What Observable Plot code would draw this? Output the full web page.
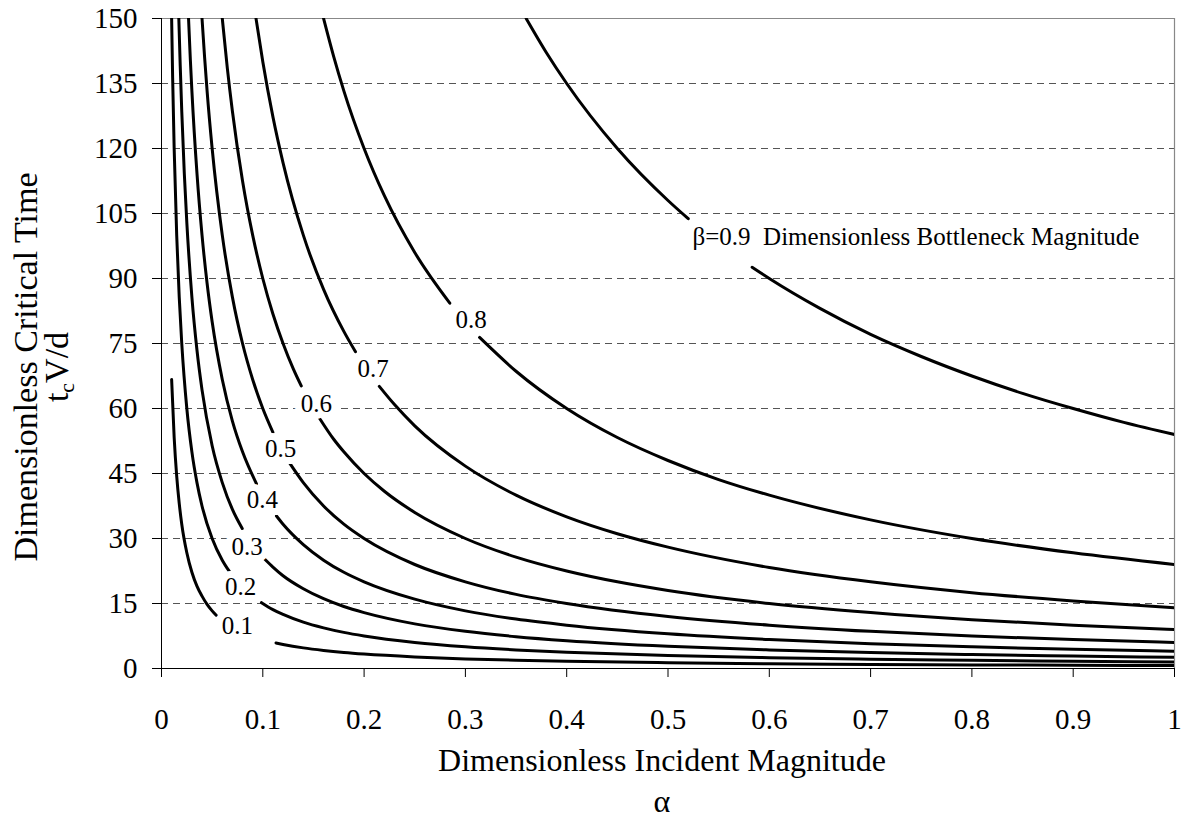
<!DOCTYPE html>
<html>
<head>
<meta charset="utf-8">
<script src="https://cdn.jsdelivr.net/npm/d3@7"></script>
<script src="https://cdn.jsdelivr.net/npm/@observablehq/plot@0.6"></script>
<style>
  html, body { margin: 0; padding: 0; background: #fff; overflow: hidden; }
  #chart { width: 1185px; height: 819px; }
</style>
</head>
<body>
<div id="chart"></div>
<script>
// ---- Data (null = gap where a label sits) ----
const betas = ["0.1", "0.2", "0.3", "0.4", "0.5", "0.6", "0.7", "0.8", "0.9"];

const alpha01 = [0.01,0.0125,0.015,0.0175,0.02,0.025,0.03,0.035,0.04,0.045,0.05,0.054,0.08,0.113,0.12,0.14,0.16,0.18,0.2,0.25,0.3,0.35,0.4,0.5,0.6,0.7,0.8,0.9,1];
const time01  = [66.7,53.3,44.4,38.1,33.3,26.7,22.2,19.0,16.7,14.8,13.3,12.3,null,5.9,5.56,4.76,4.17,3.70,3.33,2.67,2.22,1.90,1.67,1.33,1.11,0.95,0.83,0.74,0.67];

const alpha02 = [0.01,0.011,0.0125,0.015,0.0175,0.02,0.025,0.03,0.035,0.04,0.05,0.06,0.067,0.08,0.0987,0.11,0.12,0.14,0.16,0.18,0.2,0.25,0.3,0.35,0.4,0.5,0.6,0.7,0.8,0.9,1];
const time02  = [150,136.4,120,100,85.7,75,60,50,42.9,37.5,30,25,22.4,null,15.2,13.6,12.5,10.7,9.38,8.33,7.5,6,5,4.29,3.75,3,2.5,2.14,1.88,1.67,1.5];

const alpha03 = [0.0171,0.0185,0.02,0.0225,0.025,0.03,0.035,0.04,0.05,0.06,0.07,0.0797,0.09,0.102,0.11,0.12,0.14,0.16,0.18,0.2,0.25,0.3,0.35,0.4,0.5,0.6,0.7,0.8,0.9,1];
const time03  = [150,139,128.6,114.3,102.9,85.7,73.5,64.3,51.4,42.9,36.7,32.3,null,25.2,23.4,21.4,18.4,16.1,14.3,12.9,10.3,8.57,7.35,6.43,5.14,4.29,3.67,3.21,2.86,2.57];

const alpha04 = [0.0267,0.0285,0.03,0.035,0.04,0.045,0.05,0.06,0.07,0.08,0.0938,0.1,0.1135,0.12,0.14,0.16,0.18,0.2,0.25,0.3,0.35,0.4,0.5,0.6,0.7,0.8,0.9,1];
const time04  = [150,140.4,133.3,114.3,100,88.9,80,66.7,57.1,50,42.6,null,35.2,33.3,28.6,25,22.2,20,16,13.3,11.4,10,8,6.67,5.71,5,4.44,4];

const alpha05 = [0.04,0.0425,0.045,0.05,0.06,0.07,0.08,0.09,0.1,0.11,0.118,0.1257,0.14,0.16,0.18,0.2,0.25,0.3,0.35,0.4,0.5,0.6,0.7,0.8,0.9,1];
const time05  = [150,141.2,133.3,120,100,85.7,75,66.7,60,54.5,null,47.7,42.9,37.5,33.3,30,24,20,17.1,15,12,10,8.57,7.5,6.67,6];

const alpha06 = [0.06,0.065,0.07,0.08,0.09,0.1,0.11,0.12,0.13,0.138,0.147,0.1553,0.17,0.18,0.2,0.22,0.25,0.3,0.35,0.4,0.45,0.5,0.6,0.7,0.8,0.9,1];
const time06  = [150,138.5,128.6,112.5,100,90,81.8,75,69.2,65.2,null,58.0,52.9,50,45,40.9,36,30,25.7,22.5,20,18,15,12.9,11.25,10,9];

const alpha07 = [0.0933,0.1,0.11,0.12,0.14,0.16,0.18,0.1915,0.2,0.215,0.23,0.25,0.3,0.35,0.4,0.45,0.5,0.6,0.7,0.8,0.9,1];
const time07  = [150,140,127.3,116.7,100,87.5,77.8,73.1,null,65.1,60.9,56,46.7,40,35,31.1,28,23.3,20,17.5,15.6,14];

const alpha08 = [0.16,0.17,0.18,0.2,0.22,0.25,0.2846,0.3,0.314,0.35,0.4,0.45,0.5,0.55,0.6,0.7,0.8,0.9,1];
const time08  = [150,141.2,133.3,120,109.1,96,84.3,null,76.4,68.6,60,53.3,48,43.6,40,34.3,30,26.7,24];

const alpha09 = [0.36,0.38,0.4,0.45,0.5,0.52,0.55,0.583,0.6,0.65,0.7,0.75,0.8,0.85,0.9,0.95,1];
const time09  = [150,142.1,135,120,108,103.8,null,92.6,90,83.1,77.1,72,67.5,63.5,60,56.8,54];

// Curve labels (annotation anchors in data units)
const labelText  = ["0.1", "0.2", "0.3", "0.4", "0.5", "0.6", "0.7", "0.8"];
const labelAlpha = [0.075, 0.078, 0.0846, 0.0997, 0.1175, 0.153, 0.209, 0.3057];
const labelTime  = [9.8, 18.8, 28.0, 38.8, 50.6, 61.0, 69.1, 80.5];
const betaLabel = "β=0.9\u00a0\u00a0Dimensionless Bottleneck Magnitude";
const betaLabelAlpha = 0.5242;
const betaLabelTime = 99.5;

const xTicks = [0, 0.1, 0.2, 0.3, 0.4, 0.5, 0.6, 0.7, 0.8, 0.9, 1];
const yTicks = [0, 15, 30, 45, 60, 75, 90, 105, 120, 135, 150];
const gridLines = [15, 30, 45, 60, 75, 90, 105, 120, 135];

// ---- Build table ----
const alphas = [alpha01, alpha02, alpha03, alpha04, alpha05, alpha06, alpha07, alpha08, alpha09];
const times  = [time01, time02, time03, time04, time05, time06, time07, time08, time09];
const rows = [];
betas.forEach((b, i) => {
  alphas[i].forEach((a, j) => rows.push({beta: b, alpha: a, t: times[i][j]}));
});
const labels = labelText.map((s, i) => ({text: s, alpha: labelAlpha[i], t: labelTime[i]}));

const FONT = "Liberation Serif, Times New Roman, serif";

const chart = Plot.plot({
  width: 1185,
  height: 819,
  marginLeft: 161,
  marginRight: 11,
  marginTop: 18,
  marginBottom: 151,
  style: {fontFamily: FONT, fontSize: "29px", background: "#fff", color: "#000"},
  x: {domain: [0, 1]},
  y: {domain: [0, 150]},
  marks: [
    Plot.ruleY(gridLines, {stroke: "#555", strokeWidth: 1, strokeDasharray: "7,5"}),
    Plot.ruleY([150], {stroke: "#888", strokeWidth: 1.2}),
    Plot.ruleX([1], {stroke: "#888", strokeWidth: 1.2}),
    Plot.line(rows, {x: "alpha", y: "t", z: "beta", stroke: "#000", strokeWidth: 3, curve: "monotone-x", clip: true}),
    Plot.ruleX([0], {stroke: "#000", strokeWidth: 1}),
    Plot.ruleY([0], {stroke: "#000", strokeWidth: 1}),
    Plot.axisX({ticks: xTicks, tickSize: 9, tickPadding: 31, tickFormat: d => String(d), label: null, fontSize: 29}),
    Plot.axisY({ticks: yTicks, tickSize: 9, tickPadding: 15, tickFormat: d => String(d), label: null, fontSize: 29}),
    Plot.text(labels, {x: "alpha", y: "t", text: "text", fontSize: 25, fill: "#000", stroke: "#fff", strokeWidth: 14, lineAnchor: "middle"}),
    Plot.text([betaLabel], {x: () => betaLabelAlpha, y: () => betaLabelTime, text: d => d, fontSize: 25, textAnchor: "start", fill: "#000", stroke: "#fff", strokeWidth: 12, lineAnchor: "middle"})
  ]
});

document.getElementById("chart").appendChild(chart);

// ---- Axis titles (with subscript) ----
const svg = d3.select(chart);
svg.append("text")
  .attr("x", 662).attr("y", 771)
  .attr("text-anchor", "middle")
  .attr("font-family", FONT).attr("font-size", 32).attr("fill", "#000")
  .text("Dimensionless Incident Magnitude");
svg.append("text")
  .attr("x", 662).attr("y", 812)
  .attr("text-anchor", "middle")
  .attr("font-family", FONT).attr("font-size", 32).attr("fill", "#000")
  .text("α");

const yt = svg.append("g").attr("transform", "translate(37,367) rotate(-90)");
yt.append("text")
  .attr("x", 0).attr("y", 0)
  .attr("text-anchor", "middle")
  .attr("font-family", FONT).attr("font-size", 34).attr("fill", "#000")
  .text("Dimensionless Critical Time");
const t2 = yt.append("text")
  .attr("x", 0).attr("y", 31)
  .attr("text-anchor", "middle")
  .attr("font-family", FONT).attr("font-size", 34).attr("fill", "#000");
t2.append("tspan").text("t");
t2.append("tspan").attr("font-size", 22).attr("dy", 6).text("c");
t2.append("tspan").attr("dy", -6).text("V/d");
</script>
</body>
</html>
